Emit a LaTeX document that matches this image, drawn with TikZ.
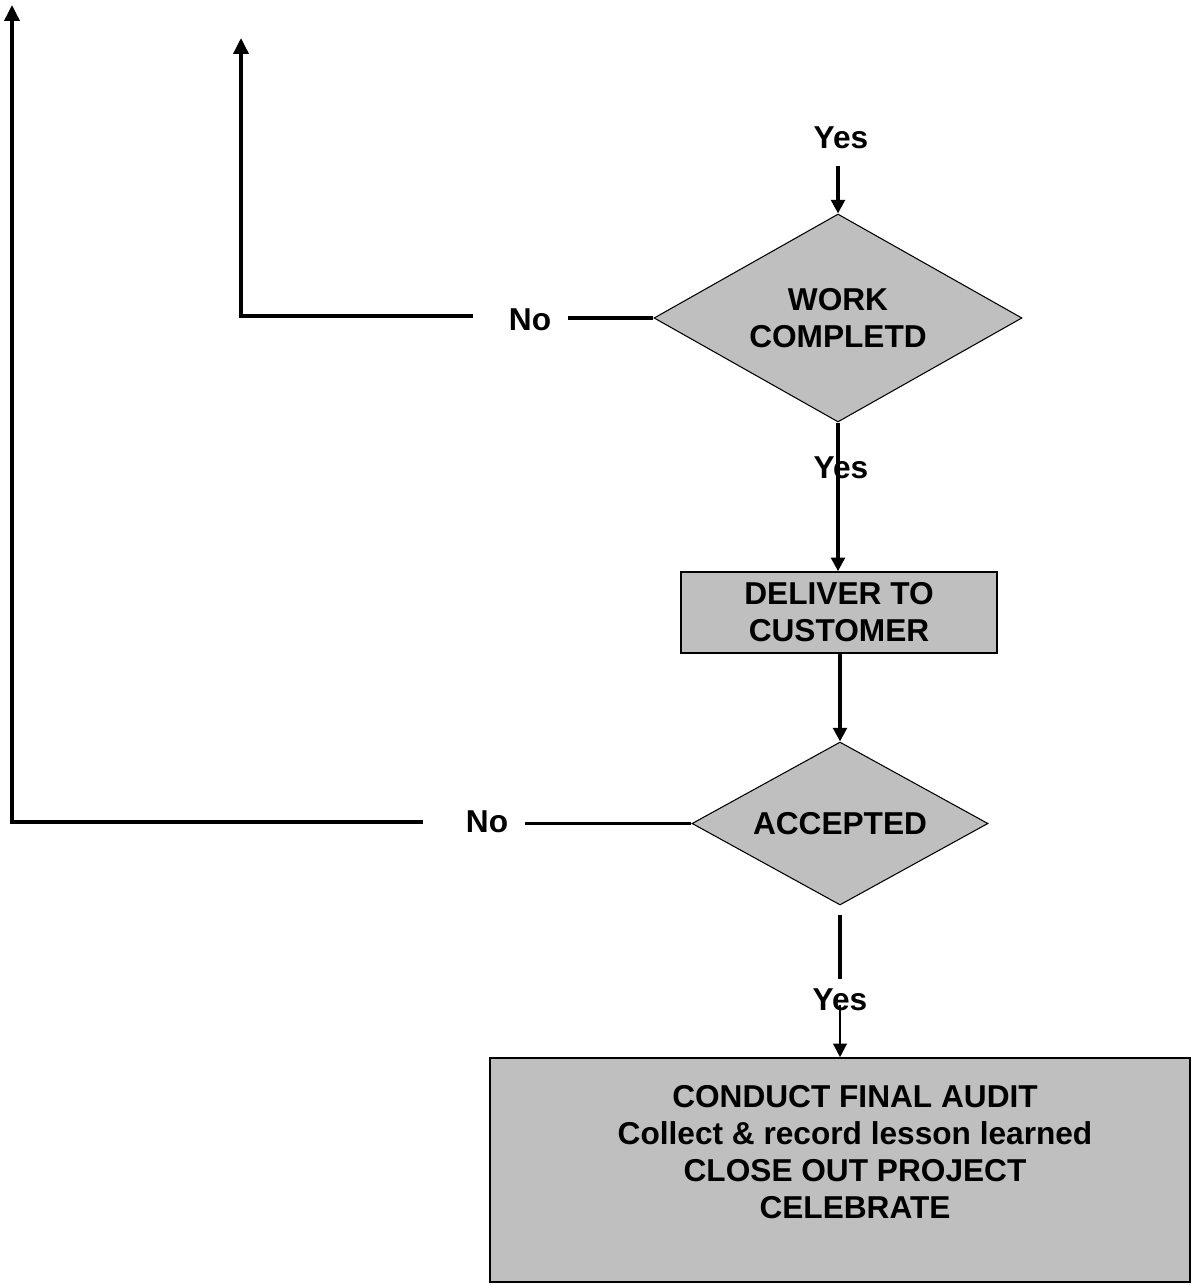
\documentclass[tikz,border=0pt]{standalone}
\usepackage{fontspec}
\setmainfont{Liberation Sans}
\usetikzlibrary{arrows.meta,shapes.geometric}
\tikzset{
  flow/.style={line width=2pt},
  flowarr/.style={line width=2pt, -{Triangle[width=0.27cm,length=0.27cm]}},
  thinarr/.style={line width=1.2pt, -{Triangle[width=0.27cm,length=0.27cm]}},
  backarr/.style={line width=2pt, -{Triangle[width=0.3cm,length=0.32cm]}},
  decision/.style={diamond, draw, line width=0.6pt, fill=black!25, inner sep=0pt, align=center},
  process/.style={rectangle, draw, line width=0.9pt, fill=black!25, inner sep=0pt, align=center},
  lbl/.style={inner sep=0pt, align=center}
}
\begin{document}
\begin{tikzpicture}[font=\fontsize{18}{21}\selectfont\bfseries]
		%%%%% START %%%%%
		\useasboundingbox (0, 0) rectangle (23.88, -25.7);
		
		\node[decision, aspect=1.77, minimum width=7.36cm, minimum height=4.16cm] (work) at (16.76, -6.36) {WORK\\COMPLETD};
		\node[process, minimum width=6.32cm, minimum height=1.62cm] (deliver) at (16.78, -12.25) {DELIVER TO\\CUSTOMER};
		\node[decision, aspect=1.82, minimum width=5.92cm, minimum height=3.26cm] (accepted) at (16.8, -16.47) {ACCEPTED};
		\node[process, minimum width=14cm, minimum height=4.48cm] (final) at (16.8, -23.4) {};
		\node[lbl] (finaltext) at (17.1, -23.04) {CONDUCT FINAL AUDIT\\Collect \& record lesson learned\\CLOSE OUT PROJECT\\CELEBRATE};
		
		% entry from above
		\node[lbl] (yestop) at (16.82, -2.76) {Yes};
		\coordinate (intop) at (16.76, -3.32);
		\draw[flowarr] (intop) -- (work.north);
		
		% work completed -> deliver
		\draw[flowarr] (work.south) -- (work.south |- deliver.north);
		\node[lbl] (yeswork) at (16.82, -9.36) {Yes};
		
		% deliver -> accepted
		\draw[flowarr] (accepted.north |- deliver.south) -- (accepted.north);
		
		% accepted -> final
		\coordinate (acca) at (16.8, -18.3);
		\coordinate (accb) at (16.8, -19.58);
		\coordinate (accc) at (16.8, -20.1);
		\draw[flow] (acca) -- (accb);
		\draw[thinarr] (accc) -- (final.north);
		\node[lbl] (yesacc) at (16.8, -20.0) {Yes};
		
		% work not completed -> back
		\node[lbl] (nowork) at (10.6, -6.4) {No};
		\coordinate (nwa) at (11.36, -6.36);
		\coordinate (nwb) at (9.46, -6.32);
		\coordinate (nwc) at (4.82, -6.32);
		\coordinate (nwd) at (4.82, -0.76);
		\draw[flow] (work.west) -- (nwa);
		\draw[backarr] (nwb) -- (nwc) -- (nwd);
		
		% not accepted -> back
		\node[lbl] (noacc) at (9.74, -16.44) {No};
		\coordinate (naa) at (10.5, -16.47);
		\coordinate (nab) at (8.46, -16.44);
		\coordinate (nac) at (0.24, -16.44);
		\coordinate (nad) at (0.24, -0.1);
		\draw[flow] (accepted.west) -- (naa);
		\draw[backarr] (nab) -- (nac) -- (nad);
		
		%%%%% END %%%%%
	\end{tikzpicture}
\end{document}
